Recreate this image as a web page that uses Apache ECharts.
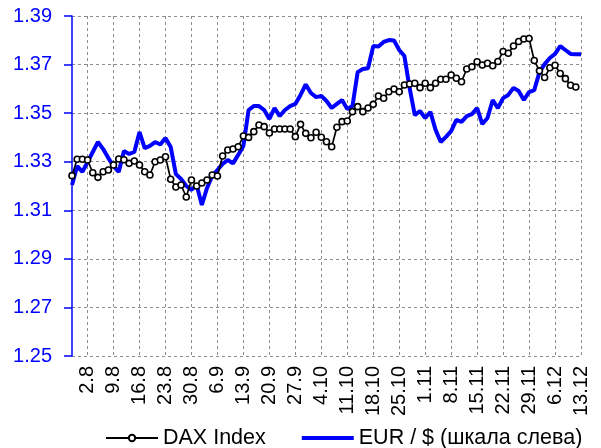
<!DOCTYPE html>
<html><head><meta charset="utf-8">
<script src="https://cdn.jsdelivr.net/npm/echarts@6/dist/echarts.min.js"></script>
<style>html,body{margin:0;padding:0;background:#fff}#c{width:601px;height:448px}</style>
</head><body><div id="c"></div>
<script>
const dates = ['30.7','31.7','1.8','2.8','5.8','6.8','7.8','8.8','9.8','12.8','13.8','14.8','15.8','16.8','19.8','20.8','21.8','22.8','23.8','26.8','27.8','28.8','29.8','30.8','2.9','3.9','4.9','5.9','6.9','9.9','10.9','11.9','12.9','13.9','16.9','17.9','18.9','19.9','20.9','23.9','24.9','25.9','26.9','27.9','30.9','1.10','2.10','3.10','4.10','7.10','8.10','9.10','10.10','11.10','14.10','15.10','16.10','17.10','18.10','21.10','22.10','23.10','24.10','25.10','28.10','29.10','30.10','31.10','1.11','4.11','5.11','6.11','7.11','8.11','11.11','12.11','13.11','14.11','15.11','18.11','19.11','20.11','21.11','22.11','25.11','26.11','27.11','28.11','29.11','2.12','3.12','4.12','5.12','6.12','9.12','10.12','11.12','12.12','13.12'];

const daxIndex = [8280,8414,8414,8408,8304,8266,8312,8326,8367,8417,8410,8381,8400,8367,8312,8285,8394,8408,8435,8250,8187,8203,8105,8244,8195,8220,8244,8285,8277,8441,8490,8499,8517,8605,8594,8641,8696,8682,8630,8663,8663,8663,8663,8600,8701,8627,8591,8636,8595,8558,8517,8677,8723,8728,8805,8846,8805,8835,8865,8934,8915,8969,8991,8969,9024,9032,9038,9002,9038,9002,9038,9071,9071,9106,9079,9051,9155,9174,9215,9188,9202,9182,9217,9299,9284,9344,9381,9401,9405,9225,9140,9085,9165,9186,9118,9076,9022,9007,null];

const eurUsd = [1.3204,1.3282,1.3258,1.3299,1.3340,1.3381,1.3352,1.3315,1.3282,1.3258,1.3344,1.3332,1.3340,1.3422,1.3356,1.3365,1.3381,1.3371,1.3398,1.3361,1.3249,1.3229,1.3200,1.3184,1.3204,1.3122,1.3192,1.3241,1.3266,1.3291,1.3307,1.3293,1.3328,1.3365,1.3513,1.3529,1.3529,1.3513,1.3476,1.3521,1.3488,1.3513,1.3529,1.3538,1.3575,1.3618,1.3583,1.3566,1.3571,1.3550,1.3521,1.3538,1.3554,1.3517,1.3529,1.3669,1.3682,1.3685,1.3776,1.3774,1.3793,1.3801,1.3799,1.3760,1.3735,1.3604,1.3492,1.3509,1.3480,1.3505,1.3431,1.3381,1.3402,1.3426,1.3472,1.3464,1.3488,1.3496,1.3521,1.3455,1.3480,1.3554,1.3521,1.3562,1.3575,1.3604,1.3591,1.3554,1.3587,1.3595,1.3669,1.3702,1.3727,1.3744,1.3776,1.3760,1.3744,1.3743,1.3743];

const yTicks = [1.25,1.27,1.29,1.31,1.33,1.35,1.37,1.39];
const seriesNames = ['DAX Index','EUR / $ (шкала слева)'];

const FONT = 'Liberation Sans';
const isLabelled = (i) => (i - 3) % 5 === 0;
const gridColor = '#8c8c8c';

const chart = echarts.init(document.getElementById('c'), null, {renderer:'canvas'});
chart.setOption({
  animation: false,
  textStyle: {fontFamily: FONT},
  grid: {left: 72, top: 16, width: 509, height: 340, containLabel: false},
  legend: {
    data: [
      {name: seriesNames[0]},
      {name: seriesNames[1], icon: 'path://M0,0L0.01,0Z M0,2L52,2L52,6L0,6Z M0,8L0.01,8Z', itemStyle: {color: '#0000ff'}}
    ],
    left: 100, top: 422,
    itemWidth: 52, itemHeight: 8, itemGap: 36,
    textStyle: {fontSize: 21.5, color: '#000', fontFamily: FONT}
  },
  xAxis: {
    type: 'category', data: dates, boundaryGap: false,
    axisLine: {show: false},
    axisTick: {show: false},
    axisLabel: {interval: (i) => isLabelled(i), rotate: 90, fontSize: 20, color: '#000', margin: 10, fontFamily: FONT},
    splitLine: {show: true, interval: (i) => isLabelled(i), lineStyle: {color: gridColor, type: [3, 3], width: 1}}
  },
  yAxis: [{
    type: 'value', min: 1.25, max: 1.39, interval: 0.01,
    axisLine: {show: true, lineStyle: {color: '#0000ff', width: 1.5}},
    axisTick: {show: true, customValues: yTicks, length: 8, lineStyle: {color: '#0000ff', width: 1.5}},
    axisLabel: {customValues: yTicks, formatter: (v) => v.toFixed(2), color: '#0000ff', fontSize: 20, margin: 20, fontFamily: FONT},
    splitLine: {show: true, lineStyle: {color: gridColor, type: [3, 3], width: 1}}
  }, {
    type: 'value', min: 6800, max: 9590, show: false, splitLine: {show: false}
  }],
  series: [{
    name: seriesNames[0], type: 'line', yAxisIndex: 1, data: daxIndex, z: 3,
    symbol: 'circle', symbolSize: 6, showSymbol: true, showAllSymbol: true,
    lineStyle: {color: '#000', width: 1.7},
    itemStyle: {color: '#fff', borderColor: '#000', borderWidth: 1.6}
  }, {
    name: seriesNames[1], type: 'line', yAxisIndex: 0, data: eurUsd, z: 2,
    symbol: 'none', showSymbol: false,
    lineStyle: {color: '#0000ff', width: 4},
    itemStyle: {color: '#0000ff'}
  }]
});
</script></body></html>
